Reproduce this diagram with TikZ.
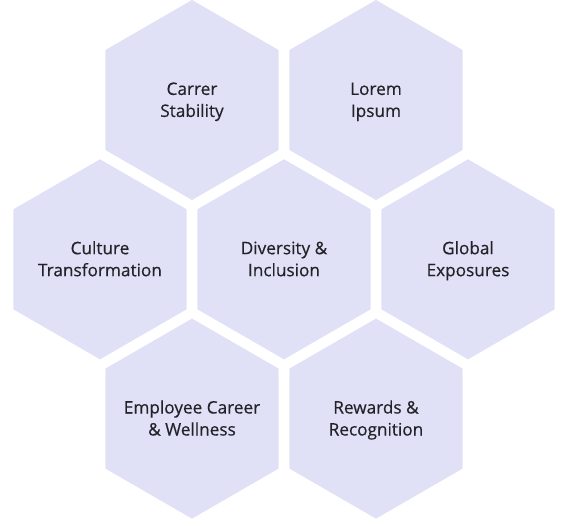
\documentclass[tikz,border=0pt]{standalone}
\usepackage{fontspec}
\setmainfont{Open Sans}[FakeBold=0.4]
\usetikzlibrary{shapes.geometric}
\definecolor{hexfill}{RGB}{224,224,246}
\definecolor{hextext}{RGB}{34,34,40}
\tikzset{
  hexcell/.style={regular polygon, regular polygon sides=6, shape border rotate=30,
    minimum size=200pt, inner sep=0pt, outer sep=0pt, fill=hexfill, draw=none},
  hexlabel/.style={align=center, text=hextext, inner sep=0pt, yshift=-1.5pt,
    font=\fontsize{17.2}{22}\selectfont}
}
\begin{document}
\begin{tikzpicture}[x=1pt,y=-1pt]
\useasboundingbox (0,0) rectangle (568,519);
\node[hexcell, label={[hexlabel]center:\strut Carrer\\Stability\strut}] (carrer) at (192,100) {};
\node[hexcell, label={[hexlabel]center:\strut Lorem\\Ipsum\strut}] (lorem) at (376,100) {};
\node[hexcell, label={[hexlabel]center:\strut Culture\\Transformation\strut}] (culture) at (100,259.3) {};
\node[hexcell, label={[hexlabel]center:\strut Diversity \&\\Inclusion\strut}] (diversity) at (284,259.3) {};
\node[hexcell, label={[hexlabel]center:\strut Global\\Exposures\strut}] (global) at (468,259.3) {};
\node[hexcell, label={[hexlabel]center:\strut Employee Career\\\& Wellness\strut}] (employee) at (192,418.6) {};
\node[hexcell, label={[hexlabel]center:\strut Rewards \&\\Recognition\strut}] (rewards) at (376,418.6) {};
\end{tikzpicture}
\end{document}
